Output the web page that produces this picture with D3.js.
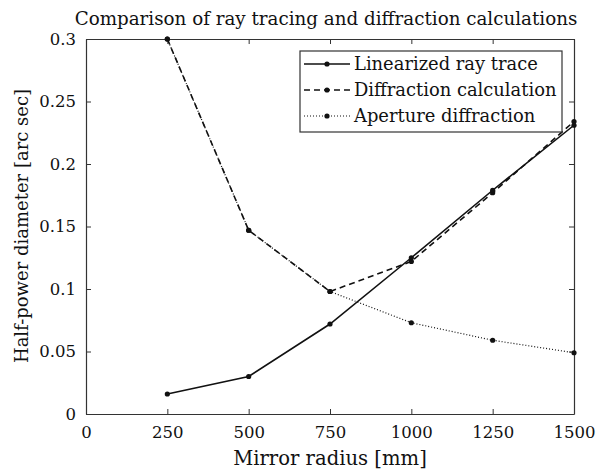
<!DOCTYPE html>
<html><head><meta charset="utf-8">
<script src="https://cdn.jsdelivr.net/npm/d3@7"></script>
<style>body{margin:0;background:#fff}svg{display:block}text{font-family:"DejaVu Serif",serif;fill:#111}</style>
</head><body><svg id="c" width="596" height="472"></svg>
<script>
const radius = [250, 500, 750, 1000, 1250, 1500];
const rayTrace = [0.016, 0.030, 0.072, 0.125, 0.179, 0.231];
const diffCalc = [0.300, 0.147, 0.098, 0.122, 0.177, 0.234];
const aperture = [0.300, 0.147, 0.098, 0.073, 0.059, 0.049];
const xTicks = [0, 250, 500, 750, 1000, 1250, 1500];
const yTicks = [0, 0.05, 0.1, 0.15, 0.2, 0.25, 0.3];
const seriesNames = ["Linearized ray trace", "Diffraction calculation", "Aperture diffraction"];
const dashes = [null, "6,4", "1,2"];

const svg = d3.select("#c");
const m = {l: 86, r: 574, t: 39, b: 414};
const x = d3.scaleLinear().domain([0, 1500]).range([m.l, m.r]);
const y = d3.scaleLinear().domain([0, 0.3]).range([m.b, m.t]);
const FF = '"DejaVu Serif",serif';
const tfs = 16.5;

const axB = d3.axisBottom(x).tickValues(xTicks).tickSizeInner(-5).tickSizeOuter(0).tickPadding(12).tickFormat(d3.format("d"));
const axT = d3.axisTop(x).tickValues(xTicks).tickSizeInner(-5).tickSizeOuter(0).tickFormat("");
const axL = d3.axisLeft(y).tickValues(yTicks).tickSizeInner(-5).tickSizeOuter(0).tickPadding(10).tickFormat(d => d === 0 ? "0" : String(+d.toFixed(2)));
const axR = d3.axisRight(y).tickValues(yTicks).tickSizeInner(-5).tickSizeOuter(0).tickFormat("");

function style(g){ g.select(".domain").attr("stroke","#333").attr("stroke-width",1.2); g.selectAll(".tick line").attr("stroke","#333"); g.selectAll("text").attr("font-family",FF).attr("font-size",tfs).attr("fill","#111"); }
svg.append("g").attr("transform",`translate(0,${m.b})`).call(axB).call(style);
svg.append("g").attr("transform",`translate(0,${m.t})`).call(axT).call(style);
svg.append("g").attr("transform",`translate(${m.l},0)`).call(axL).call(style);
svg.append("g").attr("transform",`translate(${m.r},0)`).call(axR).call(style);

const data = [rayTrace, diffCalc, aperture];
const line = d3.line().x((d,i) => x(radius[i])).y(d => y(d));
[2,1,0].forEach(k => {
  svg.append("path").datum(data[k]).attr("d", line).attr("fill","none")
    .attr("stroke","#111").attr("stroke-width", k===2?1.2:1.6)
    .attr("stroke-dasharray", dashes[k]);
  svg.selectAll(null).data(data[k]).enter().append("circle")
    .attr("cx",(d,i)=>x(radius[i])).attr("cy",d=>y(d)).attr("r",2.6).attr("fill","#111");
});

const lg = svg.append("g");
lg.append("rect").attr("x",300).attr("y",51).attr("width",262).attr("height",81)
  .attr("fill","#fff").attr("stroke","#333").attr("stroke-width",1.2);
seriesNames.forEach((n,k) => {
  const yy = 64 + k*26;
  lg.append("line").attr("x1",304).attr("x2",350).attr("y1",yy).attr("y2",yy)
    .attr("stroke","#111").attr("stroke-width",k===2?1.2:1.6).attr("stroke-dasharray",dashes[k]);
  lg.append("circle").attr("cx",327).attr("cy",yy).attr("r",2.6).attr("fill","#111");
  lg.append("text").attr("x",354).attr("y",yy+6).attr("font-size",17.9).text(n);
});

svg.append("text").attr("x",326).attr("y",25).attr("text-anchor","middle").attr("font-size",18.3)
  .text("Comparison of ray tracing and diffraction calculations");
svg.append("text").attr("x",330).attr("y",465).attr("text-anchor","middle").attr("font-size",19.6)
  .text("Mirror radius [mm]");
svg.append("text").attr("transform","translate(28,226) rotate(-90)").attr("text-anchor","middle").attr("font-size",18)
  .text("Half-power diameter [arc sec]");
</script></body></html>
